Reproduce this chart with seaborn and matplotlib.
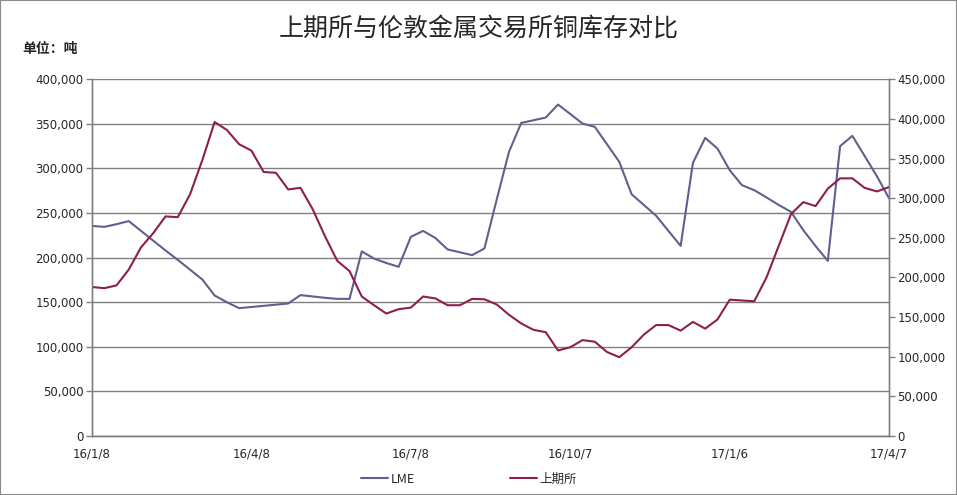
import matplotlib
matplotlib.use('Agg')
import matplotlib.pyplot as plt
import pandas as pd
import seaborn as sns
from matplotlib.lines import Line2D
from matplotlib.ticker import FuncFormatter

sns.set_style('white')
plt.rcParams['font.family'] = ['Noto Sans CJK SC', 'DejaVu Sans']

# 周度数据 2016-01-08 ~ 2017-04-07
dates = pd.date_range('2016-01-08', '2017-04-07', freq='7D')
tick_labels = ['16/1/8', '16/4/8', '16/7/8', '16/10/7', '17/1/6', '17/4/7']

lme = [
    235600, 234500, 237500, 241000, 230000, 219000, 208000, 197500, 186500, 175500,
    157600, 150000, 143400, 144700, 146000, 147300, 148600, 158000, 156500, 155000,
    153800, 153800, 207000, 199000, 194000, 189700, 223300, 230000, 222000, 209200,
    206000, 202800, 210300, 265000, 318500, 351000, 354000, 357000, 371600, 361000,
    350300, 346600, 327000, 307300, 271100, 259000, 247000, 230000, 213200, 306200,
    334200, 322300, 298000, 281200, 275600, 267500, 259000, 251300, 230800, 213000,
    196400, 324900, 336500, 314000, 291300, 266300,
]

shfe = [
    188000, 186500, 190000, 210000, 238000, 256000, 277000, 276000, 305000, 348000,
    396000, 386000, 368000, 360000, 333000, 332000, 311000, 313000, 286000, 252000,
    221000, 208000, 176000, 165000, 154500, 160000, 162000, 176000, 173600, 165000,
    165000, 173000, 172500, 166000, 153000, 142000, 134000, 131000, 108000, 112000,
    121000, 119000, 106000, 99500, 112000, 128000, 140000, 140000, 133000, 144000,
    135500, 147000, 172000, 171000, 170000, 200000, 240000, 280000, 295000, 290000,
    312000, 325000, 325000, 313000, 308500, 314000,
]

df = pd.DataFrame({'week': range(len(dates)), 'LME': lme, '上期所': shfe})

lme_color = '#60608e'
shfe_color = '#8c1f50'
axis_gray = '#808080'
lw = 1.5

fig = plt.figure(figsize=(9.57, 4.95), dpi=100)
fig.patches.append(plt.Rectangle((0, 0), 1, 1, transform=fig.transFigure,
                                 fill=False, edgecolor='#8a8a8a', linewidth=1.5))
ax = fig.add_axes([0.0961, 0.119, 0.833, 0.721])
ax2 = ax.twinx()

sns.lineplot(data=df, x='week', y='LME', ax=ax, color=lme_color, linewidth=lw)
sns.lineplot(data=df, x='week', y='上期所', ax=ax2, color=shfe_color, linewidth=lw)

num_fmt = FuncFormatter(lambda v, p: f'{int(v):,}')

ax.set_xlim(0, len(dates) - 1)
ax.set_ylim(0, 400000)
ax.set_yticks(range(0, 400001, 50000))
ax.yaxis.set_major_formatter(num_fmt)
ax2.set_ylim(0, 450000)
ax2.set_yticks(range(0, 450001, 50000))
ax2.yaxis.set_major_formatter(num_fmt)

ax.set_xticks(range(0, len(dates), 13))
ax.set_xticklabels(tick_labels, family='DejaVu Sans', fontsize=8.5)
ax.tick_params(axis='x', length=0, pad=8)
ax.tick_params(axis='y', length=4, width=1, color=axis_gray, labelsize=8.5, pad=2)
ax2.tick_params(axis='y', length=4, width=1, color=axis_gray, labelsize=8.5, pad=2)
for lab in ax.get_yticklabels() + ax2.get_yticklabels():
    lab.set_family('DejaVu Sans')

ax.grid(axis='y', color=axis_gray, linewidth=1)
ax.set_axisbelow(True)
ax.set_xlabel('')
ax.set_ylabel('')
ax2.set_ylabel('')

for a in (ax, ax2):
    a.spines['top'].set_visible(False)
    for s in ('left', 'right', 'bottom'):
        a.spines[s].set_color(axis_gray)
        a.spines[s].set_linewidth(1)

fig.text(0.5, 0.943, '上期所与伦敦金属交易所铜库存对比', ha='center', va='center', fontsize=18)
fig.text(0.023, 0.9, '单位：吨', ha='left', va='center', fontsize=10, fontweight='bold')

handles = [Line2D([], [], color=lme_color, linewidth=lw),
           Line2D([], [], color=shfe_color, linewidth=lw)]
fig.legend(handles, ['LME', '上期所'], loc='center', bbox_to_anchor=(0.49, 0.032),
           ncol=2, frameon=False, fontsize=9, handlelength=2.2, handletextpad=0.2,
           columnspacing=7.6)

fig.savefig('out.png', dpi=100)
